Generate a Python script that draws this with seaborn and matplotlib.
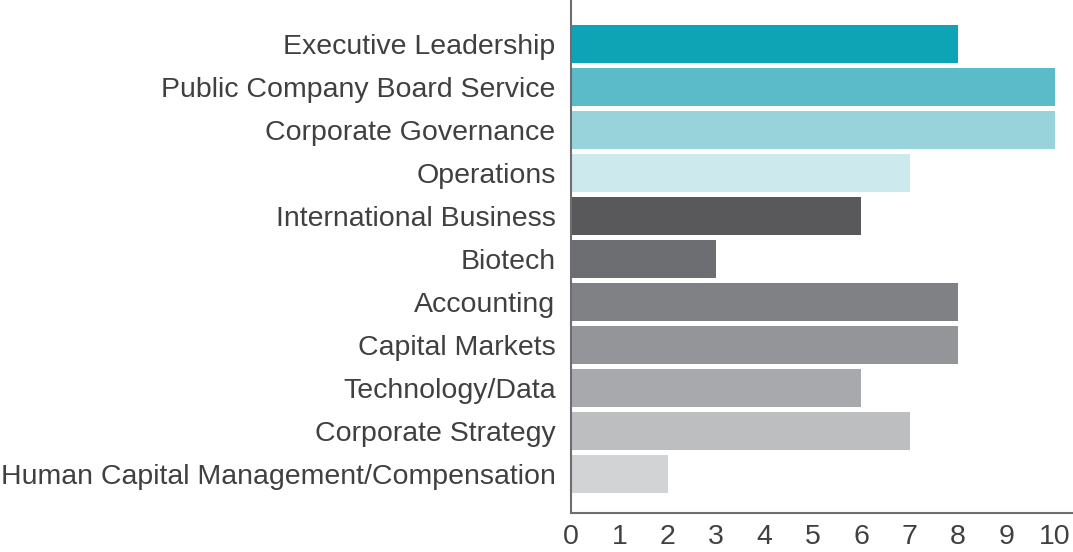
import matplotlib
matplotlib.use('Agg')
import matplotlib.pyplot as plt
import seaborn as sns
import pandas as pd

# Board skills, top to bottom
skills = ['Executive Leadership', 'Public Company Board Service', 'Corporate Governance',
          'Operations', 'International Business', 'Biotech', 'Accounting',
          'Capital Markets', 'Technology/Data', 'Corporate Strategy',
          'Human Capital Management/Compensation']
counts = [8, 10, 10, 7, 6, 3, 8, 8, 6, 7, 2]
bar_colors = ['#0fa4b5', '#5bbbc9', '#98d3dc', '#cce9ed', '#59595b', '#6d6e71',
              '#808184', '#939598', '#a7a9ac', '#bcbec0', '#d1d3d4']
x_ticks = [0, 1, 2, 3, 4, 5, 6, 7, 8, 9, 10]

sns.set_style('white')
plt.rcParams['font.family'] = ['Liberation Sans', 'DejaVu Sans']

df = pd.DataFrame({'skill': skills, 'count': counts})

fig = plt.figure(figsize=(10.73, 5.52), dpi=100)
ax = fig.add_axes([0.532, 0.0707, 0.467, 0.929])

sns.barplot(data=df, x='count', y='skill', hue='skill', palette=bar_colors,
            order=skills, hue_order=skills, legend=False, width=0.88,
            linewidth=0, saturation=1, ax=ax)

ax.set_xlim(0, 10.35)
ax.set_ylim(10.9, -1.02)
ax.set_xticks(x_ticks)
ax.set_xlabel('')
ax.set_ylabel('')
ax.tick_params(axis='y', length=0, labelsize=20.5, colors='#404040', pad=11)
ax.tick_params(axis='x', length=0, labelsize=20.5, colors='#404040', pad=8)

sns.despine(ax=ax)
for side in ['left', 'bottom']:
    ax.spines[side].set_color('#6d6e71')
    ax.spines[side].set_linewidth(1.5)

fig.savefig('out.png', dpi=100)
